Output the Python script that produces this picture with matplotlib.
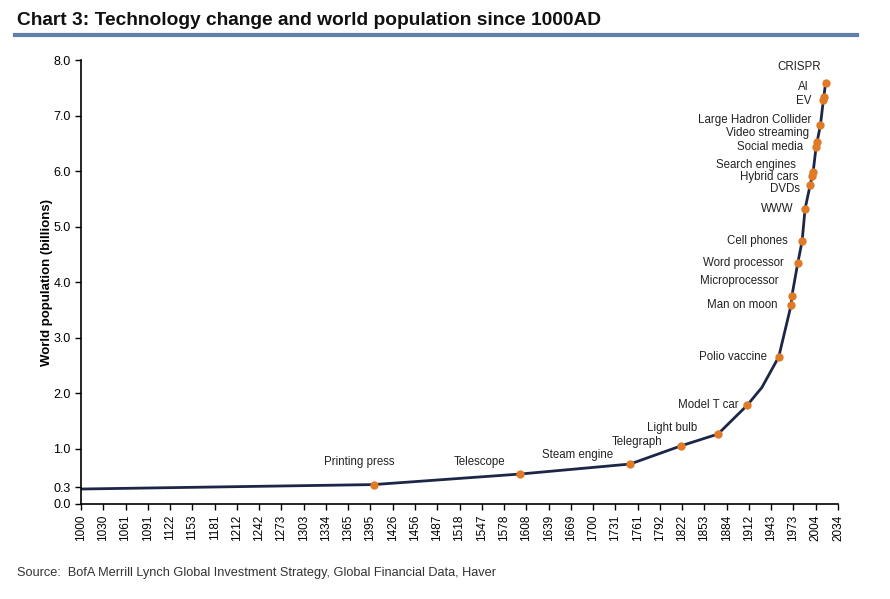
import matplotlib.pyplot as plt
import numpy as np

plt.rcParams['font.family'] = ['Liberation Sans', 'DejaVu Sans']

# world population line (billions)
pop_years = [1000, 1400, 1600, 1750, 1820, 1870, 1910, 1930, 1953, 1970, 1971,
             1979, 1985, 1989, 1996, 2000, 2004, 2010, 2014, 2017]
pop_values = [0.27, 0.35, 0.54, 0.72, 1.05, 1.26, 1.78, 2.10, 2.65, 3.59, 3.75,
              4.34, 4.74, 5.32, 5.75, 5.98, 6.43, 6.83, 7.28, 7.58]

# technology events
event_names = ["Printing press", "Telescope", "Steam engine", "Telegraph", "Light bulb",
               "Model T car", "Polio vaccine", "Man on moon", "Microprocessor",
               "Word processor", "Cell phones", "WWW", "DVDs", "Hybrid cars",
               "Search engines", "Social media", "Video streaming",
               "Large Hadron Collider", "EV", "AI", "CRISPR"]
event_years = [1400, 1600, 1750, 1820, 1870, 1910, 1953, 1970, 1971, 1979, 1985,
               1989, 1996, 1999, 2000, 2004, 2005, 2010, 2014, 2015, 2017]
event_pops = [0.35, 0.54, 0.72, 1.05, 1.26, 1.78, 2.65, 3.59, 3.75, 4.34, 4.74,
              5.32, 5.75, 5.91, 5.98, 6.43, 6.52, 6.83, 7.28, 7.33, 7.58]
# label offsets in pixels (dx, dy) relative to each dot
label_off = [(-15, 23), (-15, 12), (-17, 9), (-19, 4), (-21, 6), (-9, 0), (-12, 0),
             (-14, 0), (-13, 15), (-14, 0), (-14, 0), (-11, 0), (-10, -4), (-14, -1),
             (-17, 7), (-13, 0), (-8, 9), (-9, 5), (-12, -1), (-15, 10), (-5, 16)]

xtick_labels = ["1000", "1030", "1061", "1091", "1122", "1153", "1181", "1212", "1242",
                "1273", "1303", "1334", "1365", "1395", "1426", "1456", "1487", "1518",
                "1547", "1578", "1608", "1639", "1669", "1700", "1731", "1761", "1792",
                "1822", "1853", "1884", "1912", "1943", "1973", "2004", "2034"]
yticks = [0.0, 0.3, 1.0, 2.0, 3.0, 4.0, 5.0, 6.0, 7.0, 8.0]

fig = plt.figure(figsize=(8.9, 5.99), dpi=100)
ax = fig.add_axes([0.091, 0.1586, 0.8506, 0.7412])

ax.plot(pop_years, pop_values, color="#1c2747", lw=2, zorder=2)
ax.scatter(event_years, event_pops, s=36, color="#e07a26", zorder=3, linewidths=0)

for name, yr, p, (dx, dy) in zip(event_names, event_years, event_pops, label_off):
    ha = "center" if name == "Printing press" else "right"
    ax.annotate(name, (yr, p), xytext=(dx, dy), textcoords="offset pixels",
                ha=ha, va="center", fontsize=8.3, color="#222222")

ax.set_xlim(1000, 2034)
ax.set_ylim(0, 8)
ax.set_xticks(np.linspace(1000, 2034, len(xtick_labels)))
ax.set_xticklabels(xtick_labels, rotation=90, fontsize=8.5)
ax.set_yticks(yticks)
ax.set_yticklabels(["%.1f" % v for v in yticks], fontsize=9)
ax.tick_params(length=4, width=1, color="black")
ax.spines["top"].set_visible(False)
ax.spines["right"].set_visible(False)
ax.spines["left"].set_linewidth(1.2)
ax.spines["bottom"].set_linewidth(1.2)
ax.set_ylabel("World population (billions)", fontsize=9.5, fontweight="bold", labelpad=0)

fig.text(0.019, 0.966, "Chart 3: Technology change and world population since 1000AD",
         fontsize=13.8, fontweight="bold", va="center", ha="left", color="#111111")
fig.add_artist(plt.Line2D([0.017, 0.963], [0.941, 0.941], color="#5f7ea8", lw=3))
fig.text(0.019, 0.043, "Source:  BofA Merrill Lynch Global Investment Strategy, Global Financial Data, Haver",
         fontsize=9.2, va="center", ha="left", color="#333333")

fig.savefig("out.png", dpi=100)
